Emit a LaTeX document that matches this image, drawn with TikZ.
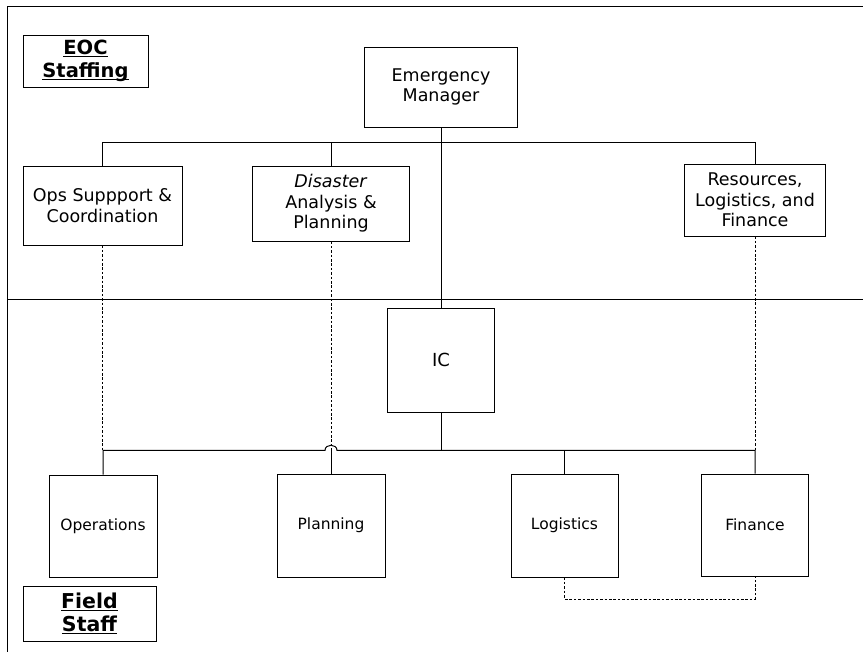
\documentclass[tikz,border=0pt]{standalone}
\usepackage{fontspec}
\setmainfont{DejaVu Sans}
\newcommand\ulbold[1]{\setbox0\hbox{#1}\rlap{\rule[-2.6pt]{\wd0}{1.3pt}}\box0}
\begin{document}
\begin{tikzpicture}[x=1pt,y=-1pt,
  orgbox/.style={draw=black,line width=0.9pt,inner sep=0pt,align=center,text=black},
  upper/.style={orgbox,font=\fontsize{17.5}{20.5}\selectfont},
  lower/.style={orgbox,font=\fontsize{15.5}{18}\selectfont},
  tag/.style={orgbox,font=\bfseries\fontsize{19.5}{23}\selectfont},
  link/.style={line width=1pt,black},
  dotlink/.style={line width=0.8pt,black,dash pattern=on 2.6pt off 1.8pt}]
\useasboundingbox (0,0) rectangle (863,652);
% frame and divider
\draw[link] (863,7) -- (7,7) -- (7,652);
\draw[link] (7,300) -- (863,300);

% section labels
\node[tag,minimum width=125,minimum height=52] (eoc) at (85.5,61) {\ulbold{EOC}\\\ulbold{Staffing}};
\node[tag,font=\bfseries\fontsize{20.5}{23}\selectfont,minimum width=133,minimum height=55] (fs) at (89.5,613.5) {\ulbold{Field}\\\ulbold{Staff}};

% EOC boxes
\node[upper,minimum width=153,minimum height=80] (em) at (441,87) {Emergency\\Manager};
\node[upper,minimum width=159,minimum height=79] (ops) at (102.5,205.5) {Ops Suppport \&\\Coordination};
\node[upper,minimum width=157,minimum height=75] (da) at (331,203.5) {\textit{Disaster}\\Analysis \&\\Planning};
\node[upper,minimum width=141,minimum height=72] (res) at (755,200) {Resources,\\Logistics, and\\Finance};

% field boxes
\node[orgbox,font=\fontsize{18}{20}\selectfont,minimum width=107,minimum height=104] (ic) at (441,360) {IC};
\node[lower,minimum width=108,minimum height=102] (opn) at (103,526) {Operations};
\node[lower,minimum width=108,minimum height=103] (plan) at (331,525.5) {Planning};
\node[lower,minimum width=107,minimum height=103] (log) at (564.5,525.5) {Logistics};
\node[lower,minimum width=107,minimum height=102] (fin) at (755,525) {Finance};

% bars
\coordinate (topbar) at (0,142.5);
\coordinate (botbar) at (0,450.5);

% EOC tree
\draw[link] (ops.north) -- (ops.north |- topbar) -- (res.north |- topbar) -- (res.north);
\draw[link] (da.north) -- (da.north |- topbar);
\draw[link] (em.south) -- (ic.north);

% field tree, hopping over the planning link
\draw[link] (opn.north) -- (opn.north |- botbar)
  -- ([xshift=-6pt]plan.north |- botbar)
  .. controls ([xshift=-6pt,yshift=7pt]plan.north |- botbar) and ([xshift=6pt,yshift=7pt]plan.north |- botbar) .. ([xshift=6pt]plan.north |- botbar)
  -- (fin.north |- botbar) -- (fin.north);
\draw[link] (ic.south) -- (ic.south |- botbar);
\draw[link] (log.north) -- (log.north |- botbar);
\draw[link] (plan.north) -- ([yshift=-1pt]plan.north |- botbar);

% dotted coordination links
\draw[dotlink] (ops.south) -- (ops.south |- botbar);
\draw[dotlink] (da.south) -- ([yshift=-1pt]plan.north |- botbar);
\draw[dotlink] (res.south) -- (res.south |- botbar);
\coordinate (dotbase) at (0,599);
\draw[dotlink] (log.south) -- (log.south |- dotbase) -- (fin.south |- dotbase) -- (fin.south);
\end{tikzpicture}
\end{document}
